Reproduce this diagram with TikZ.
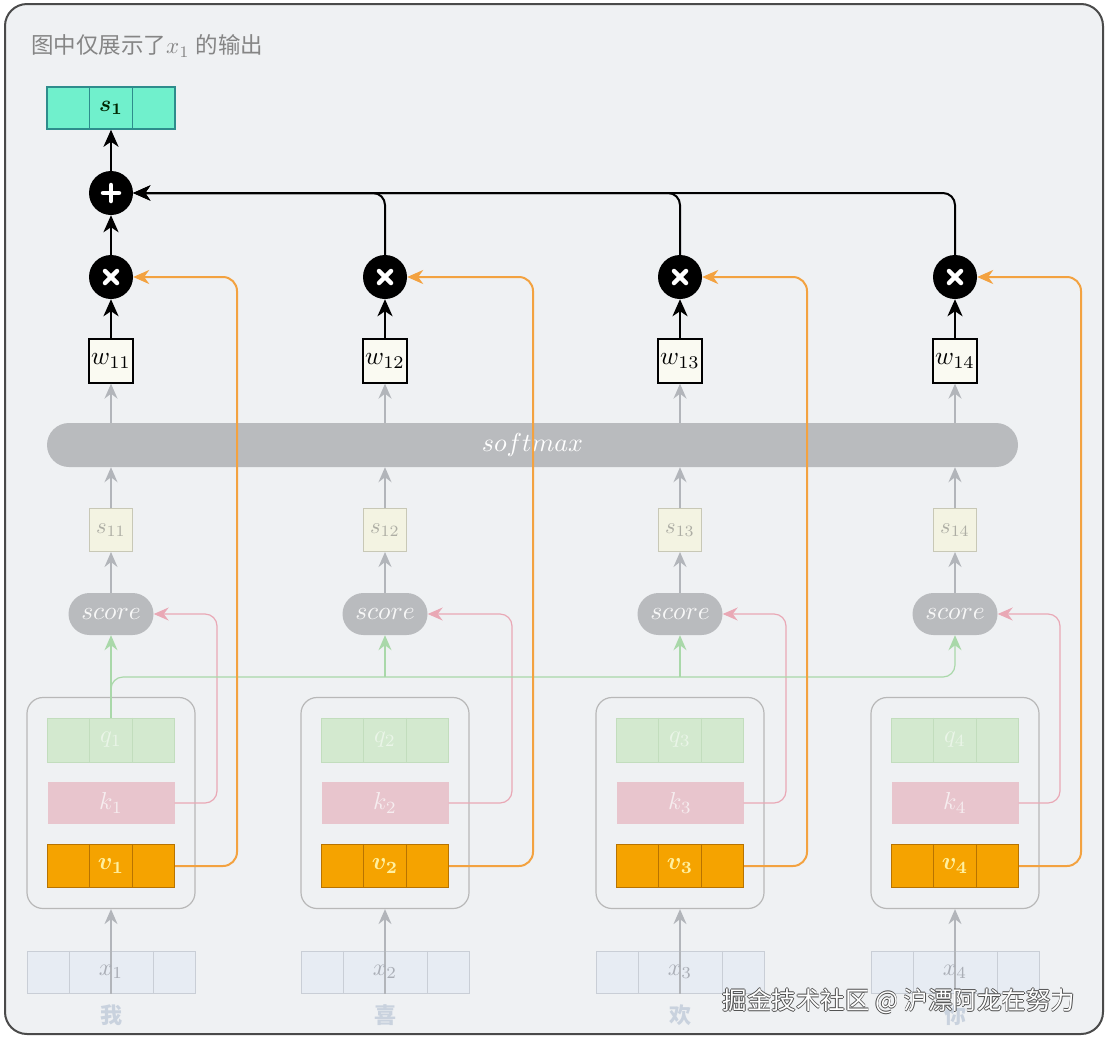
\documentclass[tikz,border=0pt]{standalone}
\usepackage{graphicx}
\usepackage{fontspec}
\usepackage{bm}
\newfontfamily\cjk{Noto Sans CJK SC}
\usetikzlibrary{arrows.meta,calc}
\newcommand\myfs[1]{\fontsize{#1}{#1}\selectfont}
\newcommand\mth[2]{\scalebox{#1}{\fontsize{10}{12}\selectfont$#2$}}
\newcommand\wmark[1]{\leavevmode\rlap{\hspace{-0.8pt}\textcolor{wmdark}{#1}}\rlap{\hspace{0.8pt}\textcolor{wmdark}{#1}}\rlap{\raisebox{0.8pt}{\textcolor{wmdark}{#1}}}\rlap{\raisebox{-0.8pt}{\textcolor{wmdark}{#1}}}\textcolor{white}{#1}}
\definecolor{bgfill}{HTML}{EFF1F3}
\definecolor{framecol}{HTML}{4A4A4A}
\definecolor{titlegrey}{HTML}{858585}
\definecolor{sonefill}{HTML}{70F0CC}
\definecolor{soneline}{HTML}{2E8C8C}
\definecolor{wfill}{HTML}{FAFAF2}
\definecolor{smfill}{HTML}{B9BBBE}
\definecolor{sijfill}{HTML}{F3F3E2}
\definecolor{sijline}{HTML}{C8C8B6}
\definecolor{sijtext}{HTML}{ADADA4}
\definecolor{greyarr}{HTML}{B2B5BA}
\definecolor{grpline}{HTML}{B8B8B8}
\definecolor{qfill}{HTML}{D3E9CF}
\definecolor{qline}{HTML}{C2DDBD}
\definecolor{qtext}{HTML}{EAF5E8}
\definecolor{kfill}{HTML}{E8C5CD}
\definecolor{ktext}{HTML}{F6EDEF}
\definecolor{vfill}{HTML}{F5A300}
\definecolor{vline}{HTML}{B87300}
\definecolor{vtext}{HTML}{FFF0A0}
\definecolor{xfill}{HTML}{E7ECF3}
\definecolor{xline}{HTML}{C9CED6}
\definecolor{xtext}{HTML}{A9ADB5}
\definecolor{wordcol}{HTML}{C9D2DE}
\definecolor{orangeln}{HTML}{F3A240}
\definecolor{pinkln}{HTML}{E9A8B5}
\definecolor{greenln}{HTML}{A9D8A9}
\definecolor{wmdark}{HTML}{505050}
\begin{document}
\begin{tikzpicture}[x=1pt,y=-1pt,
  blk/.style={line width=2.5pt,-{Stealth[length=17pt,width=15pt,inset=5pt]}},
  blkline/.style={line width=2pt,rounded corners=12pt,-{Stealth[length=17pt,width=15pt,inset=5pt]}},
  gry/.style={greyarr,line width=1.6pt,-{Stealth[length=15pt,width=13pt,inset=5pt]}},
  orng/.style={orangeln,line width=2pt,rounded corners=14pt,-{Stealth[length=16pt,width=14pt,inset=5pt]}},
  pnk/.style={pinkln,line width=1.2pt,rounded corners=12pt,-{Stealth[length=15pt,width=13pt,inset=5pt]}},
  grn/.style={greenln,line width=1.2pt,rounded corners=12pt,-{Stealth[length=15pt,width=13pt,inset=5pt]}},
  opnode/.style={circle,fill=black,minimum size=44pt,inner sep=0pt},
  mulnode/.style={opnode,path picture={
     \draw[white,line width=4.5pt,line cap=round] ($(path picture bounding box.center)+(-6,-6)$) -- ($(path picture bounding box.center)+(6,6)$);
     \draw[white,line width=4.5pt,line cap=round] ($(path picture bounding box.center)+(-6,6)$) -- ($(path picture bounding box.center)+(6,-6)$);}},
  addnode/.style={opnode,path picture={
     \draw[white,line width=4.5pt,line cap=round] ($(path picture bounding box.center)+(-8,0)$) -- ($(path picture bounding box.center)+(8,0)$);
     \draw[white,line width=4.5pt,line cap=round] ($(path picture bounding box.center)+(0,-8)$) -- ($(path picture bounding box.center)+(0,8)$);}},
  sonebox/.style={draw=soneline,fill=sonefill,line width=1.5pt,minimum width=128pt,minimum height=42pt,inner sep=0pt,text=black!85!green},
  wbox/.style={draw=black,fill=wfill,line width=1.3pt,minimum width=44pt,minimum height=44pt,inner sep=0pt},
  smbox/.style={fill=smfill,rounded corners=22pt,minimum width=971pt,minimum height=44pt,inner sep=0pt,text=white},
  sijbox/.style={draw=sijline,fill=sijfill,line width=1pt,minimum width=43pt,minimum height=43pt,inner sep=0pt,text=sijtext},
  scorebox/.style={fill=smfill,rounded corners=21pt,minimum width=85pt,minimum height=42pt,inner sep=0pt,text=white!94!gray},
  grpbox/.style={draw=grpline,line width=1.2pt,rounded corners=16pt,minimum width=168pt,minimum height=211pt,inner sep=0pt},
  qbox/.style={draw=qline,fill=qfill,line width=1pt,minimum width=127pt,minimum height=44pt,inner sep=0pt,text=qtext},
  kbox/.style={fill=kfill,minimum width=127pt,minimum height=42pt,inner sep=0pt,text=ktext},
  vbox/.style={draw=vline,fill=vfill,line width=1.2pt,minimum width=127pt,minimum height=43pt,inner sep=0pt,text=vtext},
  xbox/.style={draw=xline,fill=xfill,line width=1pt,minimum width=168pt,minimum height=42pt,inner sep=0pt},
  wordlab/.style={font={\cjk\bfseries\myfs{22}},text=wordcol,inner sep=0pt}
]
\useasboundingbox (0,0) rectangle (1108,1042);
\fill[white] (0,0) rectangle (1108,1042);
\draw[draw=framecol,fill=bgfill,line width=2pt,rounded corners=22pt] (5,4) rectangle (1103,1034);

\node[anchor=west,text=titlegrey,inner sep=0pt,font={\cjk\myfs{22.5}}] (title) at (31,46) {图中仅展示了\mth{2.3}{x_1}\hspace{6pt}的输出};

\node[sonebox] (out) at (111,108) {\mth{2.3}{\bm{s}_{\bm{1}}}};
\draw[soneline,line width=1.5pt] ($(out.north)+(-21.5,0)$) -- ($(out.south)+(-21.5,0)$);
\draw[soneline,line width=1.5pt] ($(out.north)+(21.5,0)$) -- ($(out.south)+(21.5,0)$);

\node[addnode] (plus) at (111,193) {};
\node[smbox] (sm) at (532.5,445) {\mth{2.6}{softmax}};
\coordinate (gl) at (0,677);

\foreach \i/\cx/\kx/\ox/\lab in {1/111/217/237/我,2/385/512/533/喜,3/680/786/807/欢,4/955/1060/1081/你}{
  \node[mulnode] (m\i) at (\cx,277) {};
  \node[wbox] (w\i) at (\cx,361) {\mth{2.55}{w_{1\i}}};
  \node[sijbox] (s\i) at (\cx,530) {\mth{2.25}{s_{1\i}}};
  \node[scorebox] (sc\i) at (\cx,614) {\mth{2.55}{score}};
  \node[grpbox] (g\i) at (\cx,803) {};
  \node[qbox] (q\i) at (\cx,740) {\mth{2.45}{q_{\i}}};
  \draw[qline,line width=1pt] ($(q\i.north)+(-21.5,0)$) -- ($(q\i.south)+(-21.5,0)$);
  \draw[qline,line width=1pt] ($(q\i.north)+(21.5,0)$) -- ($(q\i.south)+(21.5,0)$);
  \node[kbox] (k\i) at (\cx,803) {\mth{2.45}{k_{\i}}};
  \node[vbox] (v\i) at (\cx,866) {\mth{2.45}{\bm{v}_{\bm{\i}}}};
  \draw[vline,line width=1.2pt] ($(v\i.north)+(-21.5,0)$) -- ($(v\i.south)+(-21.5,0)$);
  \draw[vline,line width=1.2pt] ($(v\i.north)+(21.5,0)$) -- ($(v\i.south)+(21.5,0)$);
  \node[xbox] (x\i) at (\cx,972) {};
  \draw[xline,line width=1pt] ($(x\i.north)+(-42,0)$) -- ($(x\i.south)+(-42,0)$);
  \draw[xline,line width=1pt] ($(x\i.north)+(42,0)$) -- ($(x\i.south)+(42,0)$);
  \draw[gry] (x\i.south) -- (g\i.south);
  \node[text=xtext,inner sep=0pt] (xl\i) at (\cx,972) {\mth{2.4}{x_{\i}}};
  \node[wordlab] (t\i) at (\cx,1015) {\lab};
  % grey arrows
  \draw[gry] (sc\i.north) -- (s\i.south);
  \draw[gry] (s\i.north) -- (s\i.north |- sm.south);
  \draw[gry] (w\i.south |- sm.north) -- (w\i.south);
  % black
  \draw[blk] (w\i.north) -- (m\i.south);
  % pink
  \draw[pnk] (k\i.east) -| (\kx,614) -- (sc\i.east);
}
% green query lines
\draw[grn] (q1.north) -- (sc1.south);
\draw[grn] (q1.north) |- (sc4.south |- gl) -- (sc4.south);
\draw[grn] (sc2.south |- gl) -- (sc2.south);
\draw[grn] (sc3.south |- gl) -- (sc3.south);
% orange value lines
\foreach \i/\ox in {1/237,2/533,3/807,4/1081}{
  \draw[orng] (v\i.east) -| (\ox,277) -- (m\i.east);
}
% sum
\draw[blk] (m1.north) -- (plus.south);
\foreach \i in {2,3,4}{
  \draw[blkline] (m\i.north) |- (plus.east);
}
\draw[blk] (plus.north) -- (out.south);

\node[font={\cjk\myfs{24.5}},inner sep=0pt] (wm) at (899,1001) {\wmark{掘金技术社区 @ 沪漂阿龙在努力}};
\end{tikzpicture}
\end{document}
